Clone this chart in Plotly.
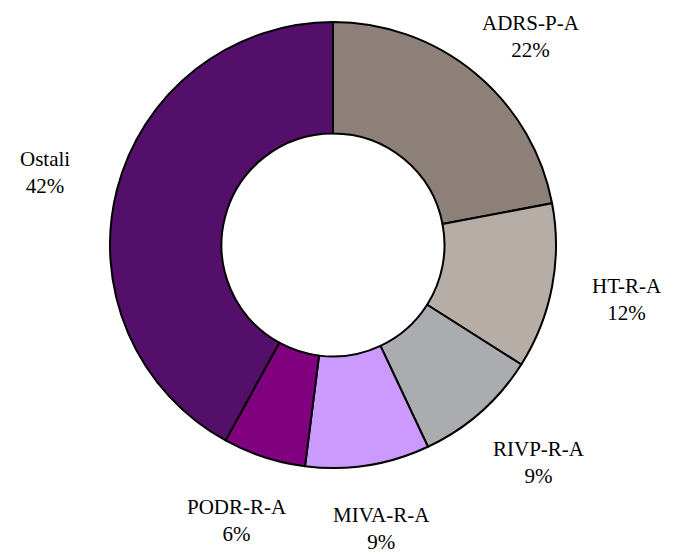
import math
import plotly.graph_objects as go

labels = ["ADRS-P-A", "HT-R-A", "RIVP-R-A", "MIVA-R-A", "PODR-R-A", "Ostali"]
values = [22, 12, 9, 9, 6, 42]
colors = ["#8c8079", "#b5ada6", "#abacb0", "#cc99ff", "#800080", "#540f6a"]

# page body has an 8px margin; figure is drawn in the remaining area
OFF = 8
W, H = 674 - OFF, 556 - OFF
cx, cy, R = 333 - OFF, 245 - OFF, 223
font = dict(family="Liberation Serif, Times New Roman, serif", size=21, color="#000000")

fig = go.Figure(go.Pie(
    labels=labels, values=values, hole=0.5, sort=False, direction="clockwise",
    rotation=0, textinfo="none", hoverinfo="label+percent",
    marker=dict(colors=colors, line=dict(color="#000000", width=2)),
    domain=dict(x=[(cx - R) / W, (cx + R) / W], y=[1 - (cy + R) / H, 1 - (cy - R) / H]),
    showlegend=False,
))

total = sum(values)
cum = 0
annotations = []
for lab, v in zip(labels, values):
    mid = (cum + v / 2) / total * 2 * math.pi
    cum += v
    ux, uy = math.sin(mid), -math.cos(mid)
    bw, bh = 12.3 * len(lab), 56
    dist = R + 39
    px = cx + dist * ux + ux * bw / 2
    py = cy + dist * uy + uy * bh / 2
    # keep the label box inside the canvas
    py = min(max(py, bh / 2), H - bh / 2)
    px = min(max(px, bw / 2), W - bw / 2)
    annotations.append(dict(
        x=px / W, y=1 - py / H, xref="paper", yref="paper",
        text=f"{lab}<br>{round(v / total * 100)}%", showarrow=False,
        font=font, align="center", xanchor="center", yanchor="middle",
    ))

fig.update_layout(
    width=W, height=H, margin=dict(l=0, r=0, t=0, b=0),
    paper_bgcolor="#ffffff", plot_bgcolor="#ffffff",
    annotations=annotations,
)
fig.write_html("out.html")
